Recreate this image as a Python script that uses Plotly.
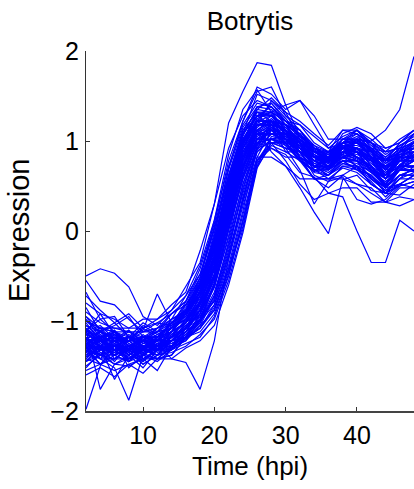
import plotly.graph_objects as go

time_hpi = [2, 4, 6, 8, 10, 12, 14, 16, 18, 20, 22, 24, 26, 28, 30, 32, 34, 36, 38, 40, 42, 44, 46, 48]

profiles = [
    [-0.5, -0.42, -0.47, -0.62, -0.95, -1.05, -0.88, -0.62, -0.35, 0.3, 1.2, 1.55, 1.87, 1.84, 1.4, 1.05, 0.85, 0.72, 0.95, 0.82, 0.72, 0.52, 0.74, 0.85],
    [-1.12, -1.28, -1.15, -1.35, -1.18, -1.22, -0.98, -0.9, -0.58, -0.12, 0.48, 1.02, 1.28, 1.3, 1.05, 0.98, 0.78, 0.88, 0.85, 1.02, 1.0, 1.12, 1.35, 1.94],
    [-1.32, -1.38, -1.18, -1.42, -1.3, -1.38, -1.15, -1.08, -0.78, -0.42, 0.18, 0.72, 0.98, 0.92, 0.85, 0.65, 0.6, 0.42, 0.38, 0.0, -0.35, -0.35, 0.12, 0.0],
    [-0.98, -1.18, -1.1, -1.28, -1.2, -1.32, -1.05, -0.95, -0.65, -0.22, 0.42, 0.88, 1.12, 0.88, 0.72, 0.48, 0.21, -0.03, 0.57, 0.62, 0.45, 0.42, 0.4, 0.52],
    [-1.98, -1.5, -1.25, -1.45, -1.3, -1.28, -1.22, -1.05, -0.92, -0.48, 0.08, 0.66, 1.02, 1.12, 0.95, 0.92, 0.7, 0.82, 0.8, 0.88, 0.66, 0.62, 0.72, 0.84],
    [-1.28, -1.42, -1.52, -1.88, -1.38, -1.25, -1.3, -1.08, -0.98, -0.58, 0.02, 0.58, 0.98, 1.15, 1.02, 0.95, 0.75, 0.78, 0.92, 0.9, 0.88, 0.62, 0.85, 0.88],
    [-1.18, -1.35, -1.38, -1.3, -1.36, -1.42, -1.42, -1.46, -1.76, -1.22, -0.3, 0.38, 0.88, 1.02, 1.05, 0.82, 0.72, 0.7, 0.85, 0.72, 0.68, 0.5, 0.74, 0.7],
    [-1.1, -1.76, -1.48, -1.42, -1.38, -1.25, -1.22, -1.02, -0.88, -0.42, 0.15, 0.72, 1.08, 1.18, 1.12, 0.92, 0.82, 0.8, 0.98, 0.88, 0.78, 0.58, 0.82, 0.8],
    [-1.42, -1.28, -1.65, -1.38, -1.52, -1.32, -1.28, -1.12, -1.02, -0.72, -0.22, 0.48, 0.92, 1.08, 1.08, 0.92, 0.82, 0.76, 0.92, 0.82, 0.72, 0.48, 0.68, 0.66],
    [-1.22, -1.2, -1.32, -1.18, -1.1, -0.7, -1.02, -0.88, -0.62, -0.08, 0.52, 0.98, 1.22, 1.28, 1.18, 0.98, 0.88, 0.78, 0.98, 0.98, 0.88, 0.68, 0.88, 0.92],
    [-0.55, -0.78, -0.82, -0.98, -1.12, -1.02, -1.05, -0.78, -0.52, 0.02, 0.62, 1.08, 1.52, 1.45, 1.32, 1.02, 0.92, 0.68, 0.88, 0.88, 0.82, 0.68, 0.88, 0.98],
    [-0.68, -0.98, -0.95, -1.18, -1.02, -1.12, -0.92, -0.78, -0.42, 0.08, 0.78, 1.22, 1.55, 1.6, 1.28, 1.12, 0.92, 0.82, 1.02, 1.02, 0.98, 0.78, 0.98, 1.08],
    [-1.25, -1.18, -1.12, -1.28, -1.3, -1.18, -1.12, -0.92, -0.62, -0.05, 0.7, 1.22, 1.6, 1.52, 1.35, 1.45, 1.18, 0.92, 0.98, 1.12, 0.92, 0.78, 0.88, 1.08],
    [-1.0, -1.08, -1.12, -1.22, -1.12, -1.12, -1.02, -0.88, -0.52, 0.12, 0.85, 1.35, 1.57, 1.32, 1.22, 1.18, 0.98, 0.88, 1.12, 1.12, 0.98, 0.92, 0.98, 1.12],
    [-1.3, -1.38, -1.42, -1.32, -1.42, -1.32, -1.32, -1.18, -1.12, -0.92, -0.48, 0.12, 0.72, 0.95, 0.88, 0.88, 0.68, 0.62, 0.72, 0.72, 0.52, 0.42, 0.58, 0.72],
    [-1.15, -1.22, -1.28, -1.32, -1.22, -1.32, -1.22, -1.18, -1.08, -0.88, -0.42, 0.05, 0.78, 0.98, 0.98, 0.78, 0.66, 0.72, 0.78, 0.78, 0.58, 0.45, 0.52, 0.62],
    [-1.2, -1.32, -1.22, -1.38, -1.28, -1.22, -1.18, -0.98, -0.82, -0.32, 0.32, 0.82, 1.18, 1.18, 1.12, 0.92, 0.78, 0.68, 0.88, 0.88, 0.78, 0.58, 0.78, 0.78],
    [-1.35, -1.22, -1.32, -1.45, -1.32, -1.32, -1.18, -1.08, -0.82, -0.48, 0.22, 0.78, 1.12, 1.12, 1.08, 0.88, 0.82, 0.72, 0.92, 0.82, 0.72, 0.52, 0.72, 0.72],
    [-1.05, -1.18, -1.15, -1.28, -1.18, -1.18, -1.08, -0.98, -0.68, -0.28, 0.42, 0.92, 1.22, 1.22, 1.18, 0.98, 0.88, 0.78, 0.98, 0.92, 0.82, 0.62, 0.82, 0.82],
    [-1.42, -1.48, -1.32, -1.28, -1.45, -1.28, -1.28, -1.08, -0.92, -0.52, 0.12, 0.68, 1.08, 1.08, 1.02, 0.82, 0.72, 0.72, 0.82, 0.78, 0.68, 0.48, 0.68, 0.68],
    [-1.25, -1.12, -1.22, -1.18, -1.32, -1.22, -1.12, -0.88, -0.68, -0.18, 0.45, 1.02, 1.28, 1.32, 1.12, 1.02, 0.88, 0.88, 0.98, 1.02, 0.88, 0.78, 0.82, 0.92],
    [-1.1, -1.28, -1.32, -1.32, -1.22, -1.22, -1.12, -1.02, -0.72, -0.32, 0.32, 0.92, 1.12, 1.22, 1.02, 0.98, 0.78, 0.78, 0.82, 0.88, 0.68, 0.58, 0.68, 0.82],
    [-1.5, -1.38, -1.48, -1.5, -1.42, -1.55, -1.28, -1.18, -0.92, -0.58, 0.02, 0.62, 1.02, 1.02, 0.98, 0.82, 0.72, 0.68, 0.82, 0.72, 0.62, 0.48, 0.62, 0.62],
    [-1.2, -1.22, -1.28, -1.28, -1.18, -1.22, -1.02, -0.88, -0.58, -0.12, 0.55, 1.08, 1.35, 1.32, 1.22, 1.02, 0.92, 0.82, 1.02, 1.02, 0.98, 0.78, 0.92, 0.98],
    [-1.3, -1.32, -1.28, -1.18, -1.28, -1.32, -1.18, -1.08, -0.78, -0.42, 0.22, 0.82, 1.08, 1.18, 0.98, 0.92, 0.72, 0.82, 0.82, 0.82, 0.68, 0.62, 0.78, 0.88],
    [-1.0, -1.12, -1.02, -1.18, -1.22, -1.08, -1.02, -0.82, -0.62, -0.12, 0.52, 0.98, 1.28, 1.18, 1.12, 0.98, 0.82, 0.72, 0.92, 0.88, 0.82, 0.62, 0.88, 0.88],
    [-1.45, -1.28, -1.38, -1.45, -1.38, -1.42, -1.28, -1.22, -0.98, -0.72, -0.12, 0.52, 0.98, 1.02, 1.02, 0.88, 0.78, 0.68, 0.88, 0.78, 0.72, 0.52, 0.72, 0.72],
    [-1.15, -1.22, -1.12, -1.32, -1.22, -1.18, -1.02, -0.92, -0.68, -0.28, 0.42, 0.92, 1.22, 1.22, 1.12, 0.92, 0.88, 0.78, 0.92, 0.92, 0.88, 0.68, 0.82, 0.82],
    [-1.3, -1.18, -1.32, -1.28, -1.38, -1.22, -1.22, -1.08, -0.88, -0.48, 0.12, 0.72, 1.08, 1.08, 1.08, 0.88, 0.78, 0.72, 0.88, 0.82, 0.72, 0.52, 0.72, 0.72],
    [-0.9, -1.02, -1.08, -1.12, -1.12, -1.08, -0.92, -0.78, -0.48, 0.02, 0.62, 1.12, 1.32, 1.32, 1.12, 1.02, 0.82, 0.82, 0.92, 1.02, 0.82, 0.72, 0.82, 0.98],
    [-1.2, -1.38, -1.38, -1.32, -1.28, -1.38, -1.22, -1.12, -0.88, -0.62, 0.02, 0.58, 0.98, 1.12, 1.12, 0.98, 0.88, 0.78, 0.92, 0.88, 0.82, 0.58, 0.78, 0.78],
    [-1.35, -1.28, -1.22, -1.22, -1.32, -1.22, -1.18, -0.98, -0.78, -0.28, 0.32, 0.92, 1.22, 1.42, 1.22, 1.08, 0.88, 0.82, 0.92, 0.98, 0.82, 0.72, 0.82, 0.92],
    [-1.1, -1.22, -1.28, -1.38, -1.28, -1.28, -1.18, -1.08, -0.82, -0.48, 0.18, 0.78, 1.18, 1.22, 1.12, 0.82, 0.72, 0.62, 0.82, 0.78, 0.68, 0.48, 0.68, 0.68],
    [-1.25, -1.32, -1.32, -1.28, -1.18, -1.32, -1.18, -1.08, -0.78, -0.38, 0.28, 0.88, 1.08, 1.12, 0.98, 0.92, 0.78, 0.88, 0.92, 0.92, 0.78, 0.68, 0.72, 0.88],
    [-1.55, -1.48, -1.42, -1.32, -1.48, -1.38, -1.32, -1.12, -0.98, -0.62, -0.08, 0.52, 0.92, 0.98, 0.98, 0.78, 0.68, 0.68, 0.78, 0.68, 0.62, 0.42, 0.58, 0.58],
    [-1.05, -1.12, -1.18, -1.22, -1.08, -1.18, -1.02, -0.92, -0.62, -0.22, 0.48, 1.08, 1.28, 1.38, 1.22, 1.12, 0.88, 0.88, 0.98, 1.08, 0.88, 0.78, 0.88, 0.98],
    [-1.3, -1.22, -1.32, -1.32, -1.32, -1.18, -1.12, -0.92, -0.72, -0.18, 0.45, 0.98, 1.18, 1.18, 1.02, 0.98, 0.72, 0.72, 0.82, 0.92, 0.72, 0.58, 0.68, 0.78],
    [-1.2, -1.28, -1.12, -1.22, -1.22, -1.28, -1.12, -1.02, -0.78, -0.42, 0.25, 0.82, 1.18, 1.18, 1.12, 0.92, 0.82, 0.78, 0.92, 0.88, 0.82, 0.62, 0.82, 0.82],
    [-1.4, -1.32, -1.32, -1.42, -1.32, -1.32, -1.22, -1.18, -0.98, -0.78, -0.28, 0.32, 0.82, 0.82, 0.72, 0.58, 0.58, 0.48, 0.62, 0.52, 0.48, 0.32, 0.48, 0.48],
    [-1.15, -1.08, -1.22, -1.18, -1.28, -1.18, -1.12, -0.92, -0.72, -0.28, 0.35, 0.92, 1.18, 1.18, 0.88, 0.78, 0.58, 0.58, 0.62, 0.72, 0.52, 0.42, 0.52, 0.62],
    [-1.35, -1.42, -1.42, -1.42, -1.28, -1.32, -1.22, -1.12, -0.88, -0.52, 0.15, 0.72, 1.02, 1.02, 0.98, 0.78, 0.72, 0.62, 0.78, 0.68, 0.62, 0.42, 0.62, 0.62],
    [-1.2, -1.12, -1.28, -1.28, -1.22, -1.12, -1.08, -0.82, -0.58, -0.02, 0.6, 1.12, 1.32, 1.22, 1.18, 0.98, 0.88, 0.82, 0.98, 0.98, 0.92, 0.78, 0.92, 0.98],
    [-1.25, -1.32, -1.28, -1.22, -1.22, -1.22, -1.08, -0.98, -0.68, -0.32, 0.35, 0.95, 1.25, 1.32, 1.4, 1.45, 1.28, 1.02, 1.02, 1.12, 0.98, 0.88, 0.92, 1.08],
    [-1.1, -1.18, -1.22, -1.22, -1.18, -1.12, -0.98, -0.88, -0.58, -0.18, 0.48, 1.08, 1.28, 1.28, 1.18, 1.12, 0.92, 0.88, 0.92, 1.02, 0.92, 0.88, 0.92, 1.08],
    [-1.3, -1.28, -1.38, -1.28, -1.38, -1.28, -1.28, -1.08, -0.88, -0.42, 0.15, 0.72, 1.02, 1.18, 1.02, 0.92, 0.72, 0.72, 0.88, 0.88, 0.68, 0.52, 0.68, 0.78],
    [-1.2, -1.28, -1.28, -1.32, -1.22, -1.28, -1.12, -1.02, -0.72, -0.38, 0.32, 0.82, 1.12, 0.98, 0.78, 0.52, 0.35, 0.42, 0.48, 0.48, 0.32, 0.32, 0.38, 0.35],
    [-0.95, -1.08, -1.12, -1.12, -1.18, -1.18, -1.02, -0.92, -0.62, -0.22, 0.45, 1.02, 1.22, 1.22, 1.02, 0.98, 0.78, 0.78, 0.82, 0.92, 0.78, 0.72, 0.82, 0.92],
    [-1.25, -1.38, -1.28, -1.42, -1.32, -1.32, -1.18, -1.08, -0.82, -0.52, 0.12, 0.68, 1.08, 1.08, 1.08, 0.88, 0.82, 0.78, 0.88, 0.82, 0.78, 0.58, 0.78, 0.78],
    [-1.15, -1.22, -1.18, -1.28, -1.28, -1.22, -1.08, -0.92, -0.58, -0.18, 0.55, 1.02, 1.22, 1.22, 1.08, 1.08, 0.88, 0.82, 0.88, 1.02, 0.82, 0.78, 0.88, 0.98],
    [-1.4, -1.28, -1.38, -1.28, -1.42, -1.32, -1.32, -1.18, -1.08, -0.82, -0.32, 0.28, 0.78, 0.92, 0.82, 0.82, 0.58, 0.58, 0.58, 0.52, 0.42, 0.32, 0.28, 0.35],
    [-1.1, -0.98, -1.12, -1.18, -1.18, -1.18, -1.12, -0.92, -0.72, -0.28, 0.35, 0.98, 1.18, 1.22, 1.08, 1.02, 0.82, 0.82, 0.92, 0.98, 0.82, 0.72, 0.82, 0.92],
    [-1.3, -1.22, -1.38, -1.32, -1.28, -1.22, -1.22, -1.02, -0.82, -0.38, 0.18, 0.82, 1.12, 1.22, 1.02, 0.92, 0.72, 0.78, 0.88, 0.92, 0.72, 0.62, 0.72, 0.88],
    [-1.2, -1.12, -1.22, -1.12, -1.22, -1.12, -1.08, -0.88, -0.68, -0.18, 0.45, 0.92, 1.22, 1.22, 1.18, 0.98, 0.88, 0.78, 0.98, 0.92, 0.88, 0.68, 0.88, 0.92],
    [-1.45, -1.38, -1.32, -1.32, -1.32, -1.38, -1.28, -1.18, -0.92, -0.62, 0.02, 0.58, 0.98, 1.02, 1.08, 0.92, 0.82, 0.72, 0.88, 0.82, 0.72, 0.52, 0.72, 0.72],
    [-1.1, -1.22, -1.22, -1.22, -1.18, -1.18, -1.02, -0.92, -0.62, -0.22, 0.45, 0.98, 1.22, 1.12, 1.02, 0.88, 0.82, 0.82, 1.08, 1.15, 1.08, 0.92, 0.98, 1.12],
    [-0.8, -0.92, -0.98, -1.08, -1.08, -1.02, -0.92, -0.82, -0.52, -0.12, 0.55, 1.08, 1.28, 1.28, 1.08, 0.98, 0.82, 0.82, 0.88, 0.92, 0.78, 0.72, 0.78, 0.88],
    [-1.25, -1.22, -1.22, -1.32, -1.28, -1.28, -1.12, -1.02, -0.78, -0.42, 0.25, 0.78, 1.08, 0.98, 0.92, 0.68, 0.3, 0.55, 0.6, 0.35, 0.3, 0.35, 0.5, 0.55],
    [-1.3, -1.48, -1.55, -1.48, -1.42, -1.42, -1.38, -1.18, -1.02, -0.72, -0.18, 0.42, 0.88, 1.02, 0.92, 0.88, 0.68, 0.68, 0.78, 0.78, 0.58, 0.48, 0.52, 0.62],
    [-1.6, -1.52, -1.62, -1.48, -1.58, -1.42, -1.38, -1.18, -1.02, -0.58, 0.05, 0.62, 1.02, 1.08, 1.02, 0.88, 0.78, 0.72, 0.88, 0.82, 0.72, 0.52, 0.68, 0.68],
    [-1.0, -1.08, -1.08, -1.08, -0.98, -0.98, -0.82, -0.68, -0.22, 0.3, 0.92, 1.28, 1.45, 1.38, 1.18, 1.08, 0.88, 0.82, 0.92, 0.98, 0.82, 0.78, 0.82, 0.98],
    [-1.22, -1.42, -1.28, -1.35, -1.48, -1.38, -1.35, -1.28, -1.15, -0.98, -0.55, 0.02, 0.72, 1.05, 1.02, 0.92, 0.78, 0.72, 0.85, 0.8, 0.7, 0.58, 0.7, 0.78],
    [-1.35, -1.18, -1.42, -1.3, -1.38, -1.45, -1.32, -1.25, -1.18, -0.95, -0.5, 0.1, 0.82, 1.12, 1.08, 0.95, 0.82, 0.75, 0.92, 0.88, 0.75, 0.62, 0.78, 0.82],
    [-1.08, -1.25, -1.38, -1.18, -1.3, -1.2, -1.28, -1.15, -1.0, -0.82, -0.38, 0.22, 0.92, 1.18, 1.15, 1.02, 0.85, 0.78, 0.95, 0.92, 0.82, 0.68, 0.82, 0.88],
    [-1.28, -1.1, -1.22, -1.32, -1.15, -1.28, -1.18, -1.05, -0.95, -0.78, -0.28, 0.32, 0.95, 1.22, 1.18, 1.08, 0.92, 0.85, 0.98, 1.0, 0.9, 0.75, 0.88, 0.95],
    [-1.45, -1.32, -1.25, -1.42, -1.35, -1.25, -1.42, -1.3, -1.22, -1.05, -0.6, -0.02, 0.7, 0.98, 1.0, 0.88, 0.75, 0.7, 0.82, 0.78, 0.65, 0.55, 0.68, 0.72],
    [-0.85, -1.12, -1.05, -0.95, -1.18, -1.08, -0.98, -0.72, -0.38, 0.12, 0.72, 1.18, 1.42, 1.38, 1.22, 1.12, 0.95, 0.88, 1.02, 1.08, 0.95, 0.82, 0.95, 1.02],
    [-1.12, -0.92, -1.15, -1.22, -1.05, -1.15, -1.08, -0.98, -0.75, -0.35, 0.28, 0.88, 1.18, 1.45, 1.28, 1.18, 1.05, 0.92, 1.05, 1.12, 1.02, 0.88, 1.02, 1.12],
    [-1.38, -1.25, -1.15, -1.35, -1.45, -1.32, -1.22, -1.12, -0.88, -0.55, 0.05, 0.72, 1.12, 1.25, 1.1, 0.88, 0.62, 0.55, 0.72, 0.68, 0.55, 0.38, 0.52, 0.48],
    [-1.18, -1.3, -1.45, -1.25, -1.35, -1.28, -1.25, -1.15, -0.95, -0.62, -0.05, 0.62, 1.05, 1.15, 1.05, 0.95, 0.85, 0.78, 0.88, 0.85, 0.78, 0.62, 0.72, 0.8],
    [-1.02, -1.22, -1.18, -1.38, -1.22, -1.35, -1.15, -1.02, -0.8, -0.42, 0.25, 0.85, 1.15, 1.28, 1.12, 1.02, 0.88, 0.85, 0.98, 1.05, 0.92, 0.82, 0.95, 1.02],
    [-1.52, -1.35, -1.48, -1.38, -1.28, -1.42, -1.3, -1.22, -1.05, -0.75, -0.25, 0.35, 0.9, 1.08, 0.98, 0.82, 0.65, 0.62, 0.75, 0.7, 0.58, 0.45, 0.58, 0.65],
    [-0.95, -1.15, -1.32, -1.15, -1.25, -1.22, -1.12, -0.9, -0.6, -0.15, 0.48, 0.98, 1.35, 1.48, 1.32, 1.22, 1.08, 0.95, 1.12, 1.08, 0.98, 0.85, 0.95, 1.05],
    [-1.25, -1.38, -1.22, -1.52, -1.38, -1.28, -1.32, -1.2, -1.08, -0.85, -0.42, 0.18, 0.78, 1.02, 0.95, 0.78, 0.68, 0.58, 0.7, 0.65, 0.52, 0.42, 0.5, 0.55],
    [-1.12, -1.05, -1.2, -1.1, -1.25, -1.15, -1.05, -0.85, -0.55, -0.08, 0.58, 1.05, 1.38, 1.35, 1.18, 1.05, 0.95, 0.82, 0.95, 0.95, 0.88, 0.75, 0.85, 0.95],
    [-1.32, -1.48, -1.38, -1.45, -1.32, -1.38, -1.22, -1.12, -0.98, -0.68, -0.15, 0.45, 0.95, 1.12, 1.08, 0.98, 0.88, 0.8, 0.92, 0.98, 0.85, 0.7, 0.85, 0.88],
    [-1.08, -1.2, -1.12, -1.25, -1.32, -1.25, -1.15, -1.0, -0.72, -0.3, 0.38, 0.95, 1.25, 1.15, 0.95, 0.8, 0.58, 0.62, 0.75, 0.72, 0.6, 0.48, 0.62, 0.68],
    [-1.38, -1.3, -1.35, -1.22, -1.35, -1.3, -1.25, -1.18, -1.05, -0.88, -0.45, 0.12, 0.75, 0.98, 0.92, 0.85, 0.72, 0.65, 0.78, 0.75, 0.65, 0.5, 0.62, 0.68],
    [-1.18, -1.28, -1.35, -1.28, -1.22, -1.32, -1.12, -0.95, -0.68, -0.25, 0.42, 1.0, 1.32, 1.28, 1.15, 0.98, 0.82, 0.75, 0.98, 1.0, 0.9, 0.72, 0.88, 0.92],
    [-1.28, -1.15, -1.25, -1.38, -1.25, -1.2, -1.22, -1.08, -0.85, -0.5, 0.12, 0.75, 1.1, 1.2, 1.12, 1.0, 0.9, 0.8, 0.95, 0.92, 0.8, 0.65, 0.8, 0.85],
    [-0.72, -0.88, -1.02, -0.92, -1.08, -0.98, -0.88, -0.72, -0.48, 0.05, 0.68, 1.15, 1.38, 1.42, 1.25, 1.05, 0.92, 0.85, 0.98, 1.02, 0.9, 0.8, 0.9, 1.0],
]

y_ticks = [-2, -1, 0, 1, 2]
y_tick_labels = ["\u22122", "\u22121", "0", "1", "2"]
x_ticks = [10, 20, 30, 40]
x_tick_labels = ["10", "20", "30", "40"]

FONT = "Liberation Sans, Arial, Helvetica, sans-serif"
FS = 25

fig = go.Figure()
for prof in profiles:
    fig.add_trace(go.Scatter(
        x=time_hpi, y=prof, mode="lines",
        line=dict(color="#0000ff", width=1.2),
        showlegend=False, hoverinfo="skip",
    ))

fig.update_layout(
    width=414, height=489,
    margin=dict(l=86, r=0, t=51, b=78),
    paper_bgcolor="white", plot_bgcolor="white",
    font=dict(family=FONT, size=FS, color="black"),
    title=dict(text="Botrytis", x=0.5, xref="paper", xanchor="center",
               y=1 - 21 / 489, yref="container", yanchor="middle",
               font=dict(family=FONT, size=FS + 1, color="black")),
    showlegend=False,
)
fig.update_xaxes(
    range=[2, 48], tickvals=x_ticks, ticktext=x_tick_labels,
    ticks="inside", ticklen=4, tickwidth=1, tickcolor="#333333",
    showline=True, linecolor="#444444", linewidth=1.5,
    showgrid=False, zeroline=False, mirror=False,
    tickfont=dict(family=FONT, size=FS, color="black"),
    ticklabelstandoff=1,
)
fig.update_yaxes(
    range=[-2, 2], tickvals=y_ticks, ticktext=y_tick_labels,
    ticks="inside", ticklen=4, tickwidth=1, tickcolor="#333333",
    showline=True, linecolor="#333333", linewidth=1.3,
    showgrid=False, zeroline=False, mirror=False,
    tickfont=dict(family=FONT, size=FS, color="black"),
    ticklabelstandoff=1,
)
fig.add_annotation(text="Time (hpi)", xref="paper", yref="paper",
                   x=0.5, y=-0.152, xanchor="center", yanchor="middle",
                   showarrow=False, font=dict(family=FONT, size=FS + 1, color="black"))
fig.add_annotation(text="Expression", xref="paper", yref="paper",
                   x=(19 - 86) / 328, y=0.5, xanchor="center", yanchor="middle",
                   textangle=-90, showarrow=False,
                   font=dict(family=FONT, size=29, color="black"))

fig.write_html("out.html", config={"displayModeBar": False},
               post_script="document.body.style.margin='0';")
